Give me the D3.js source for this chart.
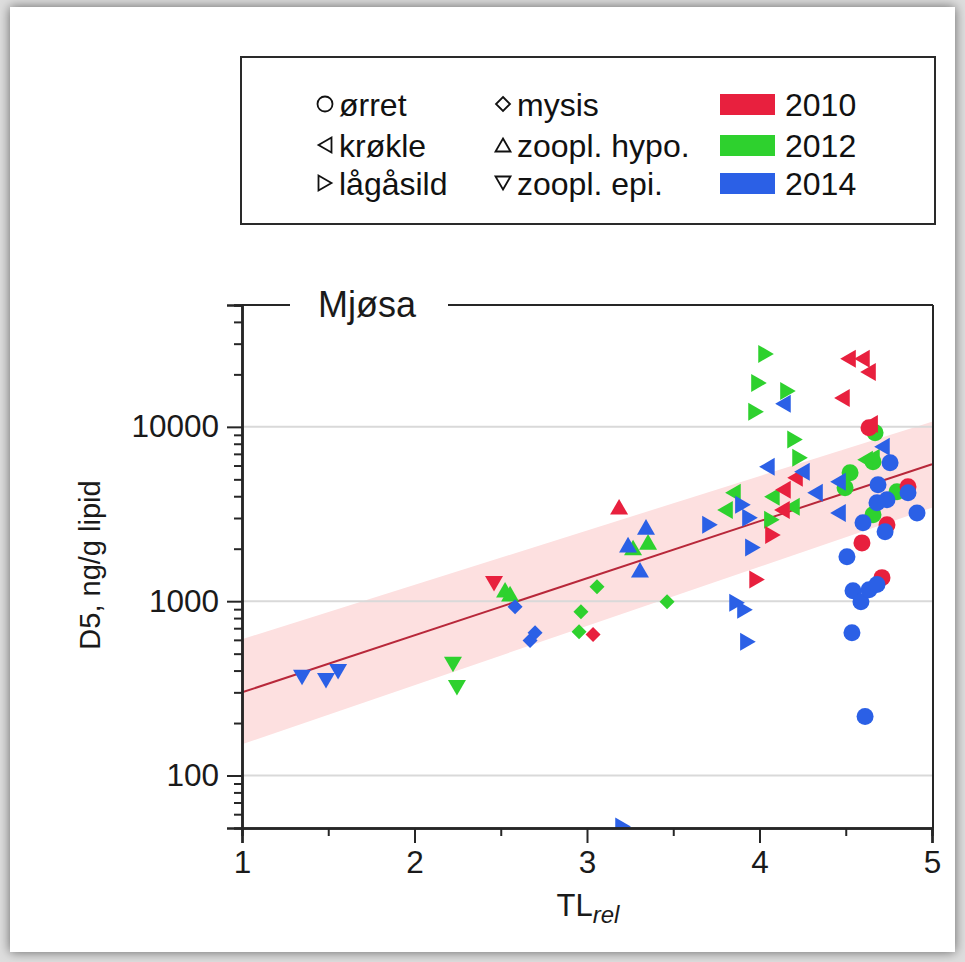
<!DOCTYPE html>
<html><head><meta charset="utf-8">
<script src="https://cdn.jsdelivr.net/npm/d3@7"></script>
<style>html,body{margin:0;padding:0;background:#dcdcdc;} svg{display:block}</style>
</head><body>
<svg id="c" width="965" height="962"></svg>
<script>
// ---------- data ----------
const years = [2010, 2012, 2014];
const yearColors = ["#e8203e", "#2ed12e", "#2b60e6"];
const speciesNames = ["ørret", "krøkle", "lågåsild", "mysis", "zoopl. hypo.", "zoopl. epi."];
const speciesShapes = ["circle", "left", "right", "diamond", "up", "down"];
const xTicks = [1, 2, 3, 4, 5];
const xMinorTicks = [1.5, 2.5, 3.5, 4.5];
const yTicks = [100, 1000, 10000];
const yMinorTicks = [60, 70, 80, 90, 200, 300, 400, 500, 600, 700, 800, 900,
  2000, 3000, 4000, 5000, 6000, 7000, 8000, 9000, 20000, 30000, 40000, 50000];

// [TL_rel, D5 ng/g lipid, year]
const orret = [
  [4.635, 9870, 2010], [4.861, 4530, 2010], [4.739, 2740, 2010], [4.594, 2160, 2010], [4.710, 1365, 2010],
  [4.670, 9240, 2012], [4.658, 6300, 2012], [4.525, 5450, 2012], [4.496, 4470, 2012], [4.658, 3130, 2012], [4.797, 4240, 2012],
  [4.757, 6220, 2014], [4.687, 4660, 2014], [4.861, 4190, 2014], [4.739, 3820, 2014], [4.681, 3670, 2014],
  [4.913, 3210, 2014], [4.600, 2820, 2014], [4.728, 2500, 2014], [4.507, 1800, 2014], [4.542, 1148, 2014],
  [4.588, 993, 2014], [4.635, 1163, 2014], [4.681, 1245, 2014], [4.536, 659, 2014], [4.612, 218, 2014]
];
const krokle = [
  [4.513, 24550, 2010], [4.594, 24550, 2010], [4.629, 20650, 2010], [4.478, 14660, 2010], [4.641, 10400, 2010],
  [4.206, 5100, 2010], [4.136, 4360, 2010], [4.130, 3340, 2010],
  [3.846, 4190, 2012], [4.072, 3970, 2012], [3.800, 3340, 2012], [4.188, 3480, 2012], [4.612, 6470, 2012], [4.652, 6640, 2012],
  [4.136, 13550, 2014], [4.043, 5900, 2014], [4.246, 5520, 2014], [4.322, 4190, 2014], [4.455, 4840, 2014],
  [4.455, 3210, 2014], [4.710, 7680, 2014]
];
const lagasild = [
  [4.078, 2400, 2010], [3.986, 1330, 2010],
  [4.038, 26200, 2012], [3.997, 17870, 2012], [4.165, 16080, 2012], [3.980, 12190, 2012], [4.206, 8450, 2012],
  [4.235, 6640, 2012], [4.072, 2930, 2012],
  [3.713, 2740, 2014], [3.904, 3570, 2014], [3.945, 3010, 2014], [3.962, 2030, 2014], [3.870, 980, 2014],
  [3.916, 894, 2014], [3.933, 586, 2014], [3.209, 51, 2014]
];
const mysis = [
  [3.035, 643, 2010],
  [3.058, 1210, 2012], [2.965, 871, 2012], [2.954, 668, 2012], [3.464, 993, 2012],
  [2.583, 929, 2014], [2.670, 594, 2014], [2.699, 659, 2014]
];
const zooplHypo = [
  [3.186, 3480, 2010],
  [2.525, 1163, 2012], [2.554, 1105, 2012], [3.354, 2190, 2012], [3.267, 2030, 2012],
  [3.342, 2670, 2014], [3.238, 2110, 2014], [3.307, 1515, 2014]
];
const zooplEpi = [
  [2.461, 1260, 2010],
  [2.223, 433, 2012], [2.246, 319, 2012],
  [1.348, 365, 2014], [1.487, 350, 2014], [1.557, 394, 2014]
];
const speciesData = [orret, krokle, lagasild, mysis, zooplHypo, zooplEpi];

// regression line and band
const fitTL = [1, 5];
const fitD5 = [300, 6100];
const bandLo = [151, 3440];
const bandHi = [605, 10700];

// ---------- drawing ----------
const svg = d3.select("#c");
const FONT = "'Liberation Sans', Arial, Helvetica, sans-serif";

const defs = svg.append("defs");
const f = defs.append("filter").attr("id", "sh").attr("x", "-5%").attr("y", "-5%").attr("width", "110%").attr("height", "110%");
f.append("feDropShadow").attr("dx", 0).attr("dy", 0).attr("stdDeviation", 6).attr("flood-color", "#000").attr("flood-opacity", 0.55);
svg.append("rect").attr("width", 965).attr("height", 962).attr("fill", "#dedede");
svg.append("rect").attr("x", 10).attr("y", 7).attr("width", 945).attr("height", 945).attr("fill", "#fff").attr("filter", "url(#sh)");

const L = 242, R = 933, T = 305, B = 828;
const x = d3.scaleLinear().domain([1, 5]).range([L, 932]);
const y = d3.scaleLog().domain([50, 50000]).range([B, T]);

defs.append("clipPath").attr("id", "plotclip").append("rect")
  .attr("x", L).attr("y", T).attr("width", R - L).attr("height", B - T);

const plot = svg.append("g").attr("clip-path", "url(#plotclip)");

// band
const bandPts = fitTL.map((t, i) => ({ t, lo: bandLo[i], hi: bandHi[i] }));
plot.append("path")
  .datum(bandPts)
  .attr("fill", "#fde0e0")
  .attr("d", d3.area().x(d => x(d.t)).y0(d => y(d.lo)).y1(d => y(d.hi)));

// gridlines
plot.selectAll(".grid").data(yTicks).join("line")
  .attr("x1", L).attr("x2", R)
  .attr("y1", d => y(d)).attr("y2", d => y(d))
  .attr("stroke", "#d9d9d9").attr("stroke-width", 2);

// fit line
plot.append("path")
  .datum(fitTL.map((t, i) => [t, fitD5[i]]))
  .attr("fill", "none").attr("stroke", "#b8283a").attr("stroke-width", 2)
  .attr("d", d3.line().x(d => x(d[0])).y(d => y(d[1])));

function shapePath(shape, s) {
  const h = s * Math.sqrt(3) / 2;
  switch (shape) {
    case "circle": {
      const r = s / 2;
      return `M${r},0A${r},${r} 0 1,1 ${-r},0A${r},${r} 0 1,1 ${r},0Z`;
    }
    case "right": return `M${h / 2},0L${-h / 2},${-s / 2}L${-h / 2},${s / 2}Z`;
    case "left": return `M${-h / 2},0L${h / 2},${-s / 2}L${h / 2},${s / 2}Z`;
    case "up": return `M0,${-h / 2}L${s / 2},${h / 2}L${-s / 2},${h / 2}Z`;
    case "down": return `M0,${h / 2}L${s / 2},${-h / 2}L${-s / 2},${-h / 2}Z`;
    case "diamond": { const d = s / 2; return `M0,${-d}L${d},0L0,${d}L${-d},0Z`; }
  }
}
const markerSize = { circle: 17, left: 18, right: 18, up: 18, down: 18, diamond: 15 };

const drawOrder = [2012, 2010, 2014];
drawOrder.forEach(yr => {
  speciesData.forEach((arr, si) => {
    const shape = speciesShapes[si];
    plot.selectAll(null).data(arr.filter(d => d[2] === yr)).join("path")
      .attr("transform", d => `translate(${x(d[0])},${y(d[1])})`)
      .attr("d", shapePath(shape, markerSize[shape]))
      .attr("fill", yearColors[years.indexOf(yr)]);
  });
});

// frame
const axisColor = "#262626";
svg.append("line").attr("x1", R).attr("x2", R).attr("y1", T).attr("y2", B).attr("stroke", axisColor).attr("stroke-width", 2);
svg.append("line").attr("x1", L).attr("x2", 290).attr("y1", T).attr("y2", T).attr("stroke", axisColor).attr("stroke-width", 2);
svg.append("line").attr("x1", 448).attr("x2", R).attr("y1", T).attr("y2", T).attr("stroke", axisColor).attr("stroke-width", 2);

// y axis
const yAxisG = svg.append("g").attr("transform", `translate(${L},0)`);
yAxisG.call(d3.axisLeft(y).tickValues(yMinorTicks).tickSize(8).tickFormat(""));
yAxisG.append("g").call(d3.axisLeft(y).tickValues(yTicks).tickSize(15).tickPadding(8).tickFormat(d3.format("d")));
yAxisG.selectAll("path.domain").attr("stroke", axisColor).attr("stroke-width", 2.5);
yAxisG.selectAll(".tick line").attr("stroke", axisColor).attr("stroke-width", 2);
yAxisG.selectAll(".tick text").attr("font-family", FONT).attr("font-size", 31.5).attr("fill", "#1a1a1a");

// x axis
const xAxisG = svg.append("g").attr("transform", `translate(0,${B})`);
xAxisG.call(d3.axisBottom(x).tickValues(xMinorTicks).tickSize(8).tickFormat(""));
xAxisG.append("g").call(d3.axisBottom(x).tickValues(xTicks).tickSize(15).tickPadding(8).tickFormat(d3.format("d")));
xAxisG.selectAll("path.domain").attr("stroke", axisColor).attr("stroke-width", 2.5);
xAxisG.selectAll(".tick line").attr("stroke", axisColor).attr("stroke-width", 2);
xAxisG.selectAll(".tick text").attr("font-family", FONT).attr("font-size", 31.5).attr("fill", "#1a1a1a");

// titles
svg.append("text").attr("x", 367).attr("y", 317).attr("text-anchor", "middle")
  .attr("font-family", FONT).attr("font-size", 36).attr("fill", "#1a1a1a").text("Mjøsa");

const xt = svg.append("text").attr("x", 588).attr("y", 916).attr("text-anchor", "middle")
  .attr("font-family", FONT).attr("font-size", 31).attr("fill", "#1a1a1a");
xt.append("tspan").text("TL");
xt.append("tspan").attr("font-size", 24).attr("font-style", "italic").attr("dy", 7).text("rel");

svg.append("text").attr("transform", "translate(100,565) rotate(-90)").attr("text-anchor", "middle")
  .attr("font-family", FONT).attr("font-size", 29).attr("fill", "#1a1a1a").text("D5, ng/g lipid");

// legend
const lg = svg.append("g");
lg.append("rect").attr("x", 241).attr("y", 57).attr("width", 694).attr("height", 167)
  .attr("fill", "#fff").attr("stroke", "#2a2a2a").attr("stroke-width", 2);
const rowY = [104, 145, 183];
speciesNames.forEach((name, i) => {
  const col = Math.floor(i / 3), row = i % 3;
  const sx = col === 0 ? 325 : 503;
  const shape = speciesShapes[i];
  lg.append("path")
    .attr("transform", `translate(${sx},${rowY[row]})`)
    .attr("d", shapePath(shape, shape === "diamond" ? 14 : 15))
    .attr("fill", "none").attr("stroke", "#111").attr("stroke-width", 1.8);
  lg.append("text").attr("x", sx + 14).attr("y", rowY[row] + 11.5)
    .attr("font-family", FONT).attr("font-size", 32).attr("fill", "#111").text(name);
});
years.forEach((yr, i) => {
  lg.append("rect").attr("x", 720).attr("y", rowY[i] - 10).attr("width", 55).attr("height", 21)
    .attr("fill", yearColors[i]);
  lg.append("text").attr("x", 785).attr("y", rowY[i] + 11.5)
    .attr("font-family", FONT).attr("font-size", 32).attr("fill", "#111").text(yr);
});
</script>
</body></html>
